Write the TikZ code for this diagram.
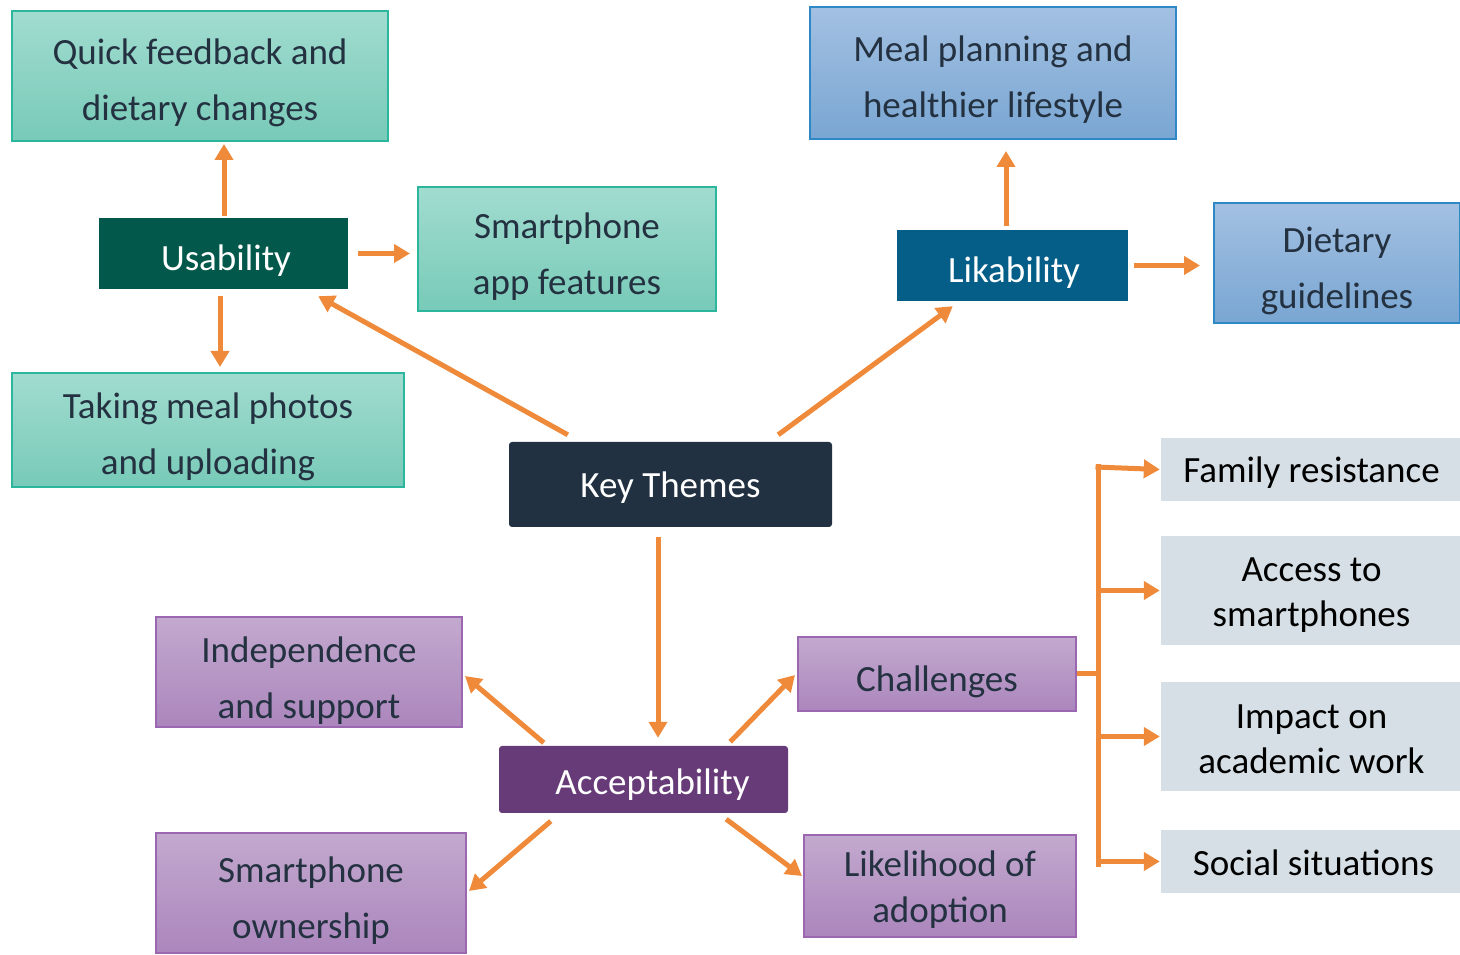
\documentclass[tikz,border=0pt]{standalone}
\usepackage{fontspec}
\setmainfont{Carlito}
\usetikzlibrary{arrows.meta,calc}

\definecolor{arrowc}{HTML}{EE8A3A}
\definecolor{tealtop}{HTML}{A1DCCF}
\definecolor{tealbot}{HTML}{78CAB8}
\definecolor{tealedge}{HTML}{2DB69E}
\definecolor{bluetop}{HTML}{A3C0E2}
\definecolor{bluebot}{HTML}{79A6D2}
\definecolor{blueedge}{HTML}{2F88C6}
\definecolor{purptop}{HTML}{C3A9CE}
\definecolor{purpbot}{HTML}{AB86BD}
\definecolor{purpedge}{HTML}{9A67B0}
\definecolor{greyfill}{HTML}{D5DFE5}
\definecolor{inktext}{HTML}{233140}
\definecolor{usabc}{HTML}{02594B}
\definecolor{likc}{HTML}{045E88}
\definecolor{keyc}{HTML}{223142}
\definecolor{accc}{HTML}{663B78}

% lower a line of text inside its box without changing the box size
\newcommand{\dn}[2][7pt]{\raisebox{-#1}[\height][\depth]{#2}}

\tikzset{
  box/.style={rectangle, inner sep=0pt, align=center, text=inktext,
    font=\fontsize{37pt}{56pt}\selectfont},
  tealbox/.style={box, top color=tealtop, bottom color=tealbot, draw=tealedge, line width=2pt},
  bluebox/.style={box, top color=bluetop, bottom color=bluebot, draw=blueedge, line width=2pt},
  purpbox/.style={box, top color=purptop, bottom color=purpbot, draw=purpedge, line width=2pt},
  greybox/.style={box, fill=greyfill, text=black, font=\fontsize{37pt}{45pt}\selectfont},
  themebox/.style={rectangle, inner sep=0pt, text=white, font=\fontsize{37pt}{44pt}\selectfont},
  arr/.style={draw=arrowc, line width=5pt, -{Triangle[width=18pt,length=16pt]}},
  busline/.style={draw=arrowc, line width=5pt},
}

\begin{document}
\begin{tikzpicture}[x=1pt, y=1pt]
\useasboundingbox (0,0) rectangle (1460,954);

% Usability branch
\node[tealbox, minimum width=376, minimum height=130] (quick) at (200,878) {\dn{Quick feedback and}\\\dn{dietary changes}};
\node[tealbox, minimum width=298, minimum height=124] (appf) at (567,705) {\dn[7.5pt]{Smartphone}\\\dn[7.5pt]{app features}};
\node[tealbox, minimum width=392, minimum height=114] (meal) at (208,524) {\dn{Taking meal photos}\\\dn{and uploading}};
\node[themebox, fill=usabc, minimum width=249, minimum height=71] (usab) at (223.5,700.5) {\dn{\hspace*{5pt}Usability}};

% Likability branch
\node[bluebox, minimum width=366, minimum height=132] (plan) at (993,881) {\dn{Meal planning and}\\\dn{healthier lifestyle}};
\node[bluebox, minimum width=246, minimum height=120] (diet) at (1337,691) {\dn[7.5pt]{Dietary}\\\dn[7.5pt]{guidelines}};
\node[themebox, fill=likc, minimum width=231, minimum height=71] (lik) at (1012.5,688.5) {\dn{\hspace*{3pt}Likability}};

% Centre
\node[themebox, fill=keyc, rounded corners=3pt, minimum width=323, minimum height=85] (kt) at (670.5,469.5) {\dn[3pt]{Key Themes}};

% Acceptability branch
\node[themebox, fill=accc, rounded corners=3pt, minimum width=289, minimum height=67] (acc) at (643.5,174.5) {\dn[5pt]{\hspace*{18pt}Acceptability}};
\node[purpbox, minimum width=306, minimum height=110] (indep) at (309,282) {\dn[8.5pt]{Independence}\\\dn[8.5pt]{and support}};
\node[purpbox, minimum width=310, minimum height=120] (own) at (311,61) {\dn[8pt]{Smartphone}\\\dn[8pt]{ownership}};
\node[purpbox, minimum width=278, minimum height=74] (chal) at (937,280) {\dn[8pt]{Challenges}};
\node[purpbox, minimum width=272, minimum height=102, font=\fontsize{37pt}{46pt}\selectfont] (like) at (940,68) {\dn[4pt]{Likelihood of}\\\dn[4pt]{adoption}};

% Challenges
\node[greybox, minimum width=301, minimum height=63] (fam) at (1311.5,484.5) {\dn[3pt]{Family resistance}};
\node[greybox, minimum width=301, minimum height=109] (access) at (1311.5,363.5) {\dn[5pt]{Access to}\\\dn[5pt]{smartphones}};
\node[greybox, minimum width=301, minimum height=109] (impact) at (1311.5,217.5) {\dn[3pt]{Impact on}\\\dn[3pt]{academic work}};
\node[greybox, minimum width=301, minimum height=63] (social) at (1311.5,92.5) {\dn[1.5pt]{\hspace*{4pt}Social situations}};

% connectors
\draw[arr] ($(usab.north)+(0.5,2)$) -- ($(usab.north |- quick.south)+(0.5,-2)$);
\draw[arr] ($(usab.east)+(10,0)$) -- ($(usab.east -| appf.west)+(-7,0)$);
\draw[arr] ($(usab.south)+(-3.5,-7)$) -- ($(usab.south |- meal.north)+(-3.5,5)$);
\draw[arr] ($(kt.north west)+(59,7)$) -- ($(usab.south east)+(-30,-7)$);
\draw[arr] ($(kt.north east)+(-54,7)$) -- ($(lik.south west)+(56,-5)$);
\draw[arr] ($(lik.north)+(-6.5,4)$) -- ($(lik.north |- plan.south)+(-6.5,-11)$);
\draw[arr] ($(lik.east)+(6,0)$) -- ($(lik.east -| diet.west)+(-13,0)$);
\draw[arr] ($(kt.south)+(-12.5,-10)$) -- ($(kt.south |- acc.north)+(-12.5,8)$);
\draw[arr] ($(acc.north west)+(45,3)$) -- ($(indep.east)+(2,-4)$);
\draw[arr] ($(acc.north east)+(-58,4)$) -- ($(chal.west)+(-2,-1)$);
\draw[arr] ($(acc.south west)+(52,-8)$) -- ($(own.east)+(2,2)$);
\draw[arr] ($(acc.south east)+(-62,-6)$) -- ($(like.west)+(-1,10)$);

% bracket from Challenges to its four sub-themes
\coordinate (bus) at (1098,280);
\draw[busline] (chal.east) -- (chal.east -| bus);
\draw[busline] ($(bus |- fam.west)+(0,5)$) -- ($(bus |- social.west)+(0,-5)$);
\draw[arr] ($(bus |- fam.west)+(-2.5,2.5)$) -- ($(fam.west)+(-1,0)$);
\draw[arr] (bus |- access.west) -- ($(access.west)+(-1,0)$);
\draw[arr] (bus |- impact.west) -- ($(impact.west)+(-1,0)$);
\draw[arr] ($(bus |- social.west)+(-2.5,0)$) -- ($(social.west)+(-1,0)$);
\end{tikzpicture}
\end{document}
